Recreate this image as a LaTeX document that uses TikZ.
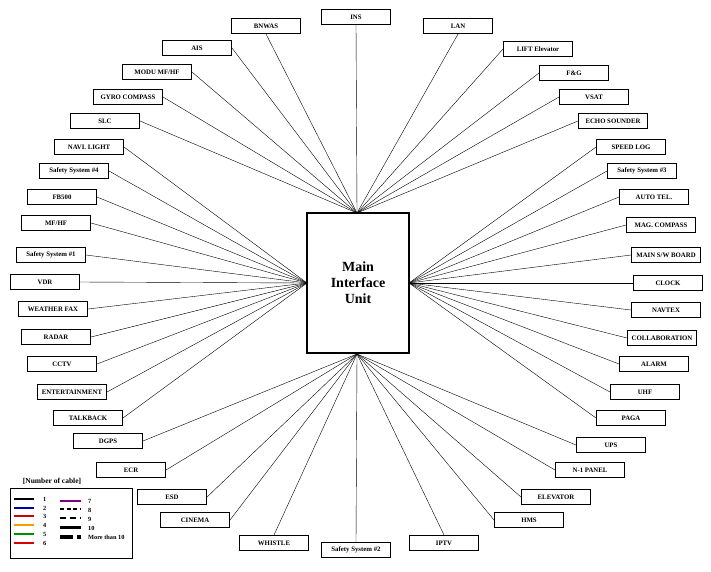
\documentclass[tikz,border=0pt]{standalone}
\usepackage{fontspec}
\setmainfont{Liberation Serif}
\begin{document}
\begin{tikzpicture}[x=1pt,y=-1pt,
  bx/.style={draw,line width=1pt,minimum width=69pt,minimum height=15pt,inner sep=0pt,font=\bfseries\fontsize{6.8}{7.5}\selectfont},
  ln/.style={line width=0.4pt},
  lg/.style={line width=1.4pt}]
\useasboundingbox (0,0) rectangle (711,571);
\node[draw,line width=1.6pt,minimum width=102pt,minimum height=140pt,align=center,font=\bfseries\fontsize{14}{16}\selectfont] (M) at (358,283) {Main\\Interface\\Unit};
\coordinate (T) at (357,213);
\coordinate (L) at (307,283);
\coordinate (R) at (409,283);
\coordinate (B) at (357,354);
% top group
\foreach \n/\x/\y/\t/\a in {
 ins/356/17/INS/south, bnwas/266/26/BNWAS/south, lan/458/26/LAN/south,
 ais/197/48/AIS/east, lift/538/49/LIFT Elevator/west, modu/157/72/{MODU MF/HF}/east,
 fg/574/73/F\&G/west, gyro/128/97/GYRO COMPASS/east, vsat/594/97/VSAT/west,
 slc/105/121/SLC/east, echo/613/121/ECHO SOUNDER/west}
 {\node[bx] (\n) at (\x,\y) {\t}; \draw[ln] (\n.\a) -- (T);}
% left group
\foreach \n/\x/\y/\t in {
 navi/89/147/NAVI. LIGHT, ss4/74/171/Safety System \#4, fb/62/197/FB500,
 mfhf/56/223/{MF/HF}, ss1/51/255/Safety System \#1, vdr/45/282/VDR,
 wfax/53/309/WEATHER FAX, radar/56/337/RADAR, cctv/62/364/CCTV,
 ent/72/392/ENTERTAINMENT, talk/88/418/TALKBACK}
 {\node[bx] (\n) at (\x,\y) {\t}; \draw[ln] (\n.east) -- (L);}
% right group
\foreach \n/\x/\y/\t in {
 speed/631/147/SPEED LOG, ss3/642/171/Safety System \#3, auto/654/197/AUTO TEL.,
 mag/661/225/MAG. COMPASS, msw/666/255/{MAIN S/W BOARD}, clock/668/283/CLOCK,
 navtex/666/310/NAVTEX, coll/662/338/COLLABORATION, alarm/654/364/ALARM,
 uhf/645/392/UHF, paga/631/418/PAGA}
 {\node[bx] (\n) at (\x,\y) {\t}; \draw[ln] (\n.west) -- (R);}
% bottom group
\foreach \n/\x/\y/\t/\a in {
 dgps/108/441/DGPS/east, ecr/131/470/ECR/east, esd/172/497/ESD/east,
 cin/195/520/CINEMA/east, wh/274/543/WHISTLE/north, ss2/356/550/Safety System \#2/north,
 iptv/444/543/IPTV/north, hms/529/520/HMS/west, elev/556/497/ELEVATOR/west,
 n1/590/470/N-1 PANEL/west, ups/611/445/UPS/west}
 {\node[bx] (\n) at (\x,\y) {\t}; \draw[ln] (\n.\a) -- (B);}
% legend
\node[font=\bfseries\fontsize{7.5}{8}\selectfont] (lt) at (52,481) {[Number of cable]};
\node[draw,line width=0.6pt,minimum width=122pt,minimum height=70pt,inner sep=0pt] (lb) at (71,523) {};
\tikzset{lbl/.style={anchor=west,inner sep=0pt,font=\bfseries\fontsize{6.3}{7}\selectfont}}
\foreach \y/\c/\t [count=\i] in {499/black/1,508/blue!70!black/2,516/red!80!black/3,525/orange!80!yellow/4,534/green!55!black/5,543/red!85!black/6}
 {\coordinate (a\i) at (14,\y); \coordinate (b\i) at (34,\y);
  \draw[lg,draw=\c] (a\i) -- (b\i); \node[lbl] (t\i) at (43,\y) {\t};}
\coordinate (c1) at (60,501); \coordinate (d1) at (81,501);
\draw[lg,draw=violet] (c1) -- (d1); \node[lbl] (u1) at (88,501) {7};
\coordinate (c2) at (60,509); \coordinate (d2) at (81,509);
\draw[lg,dash pattern=on 4pt off 2.5pt] (c2) -- (d2); \node[lbl] (u2) at (88,510) {8};
\coordinate (c3) at (60,518); \coordinate (d3) at (81,518);
\draw[line width=2pt,dash pattern=on 6pt off 4pt] (c3) -- (d3); \node[lbl] (u3) at (88,519) {9};
\coordinate (c4) at (60,527); \coordinate (d4) at (81,527);
\draw[line width=3pt] (c4) -- (d4); \node[lbl] (u4) at (88,528) {10};
\coordinate (c5) at (60,537); \coordinate (d5) at (81,537);
\draw[line width=3.5pt,dash pattern=on 13pt off 4pt on 4pt off 10pt] (c5) -- (d5); \node[lbl] (u5) at (88,537) {More than 10};
\end{tikzpicture}
\end{document}
